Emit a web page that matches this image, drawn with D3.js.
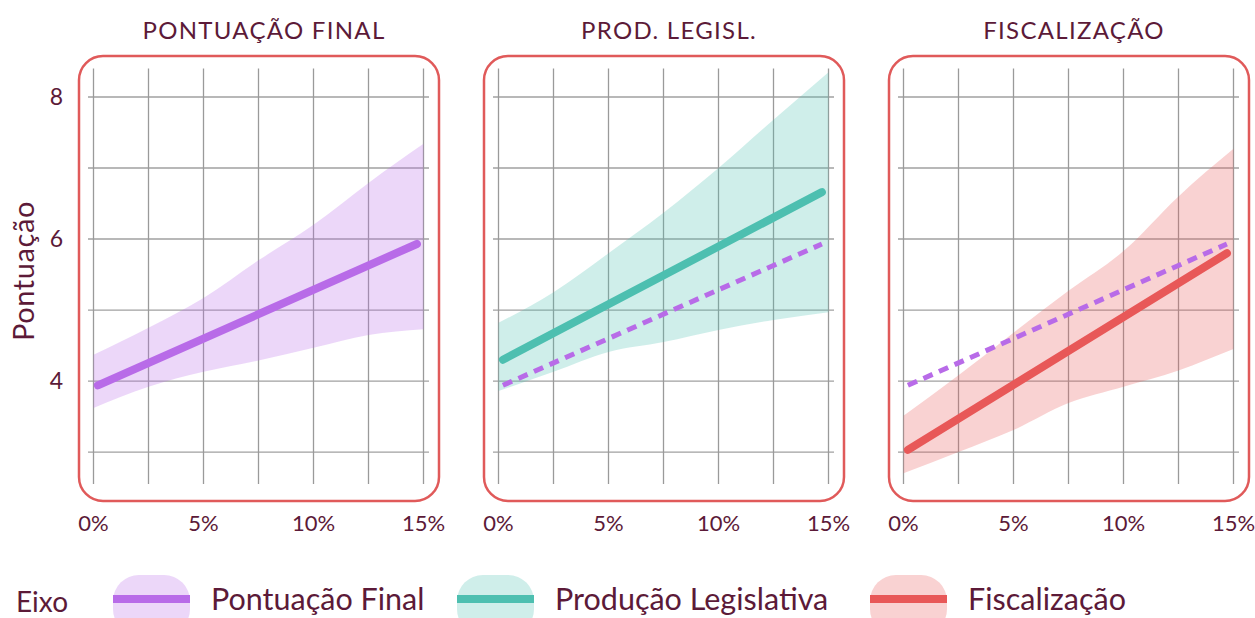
<!DOCTYPE html>
<html>
<head>
<meta charset="utf-8">
<script src="https://cdn.jsdelivr.net/npm/d3@7"></script>
<style>
  body { margin: 0; background: #fff; }
  text { font-family: Lato, "Open Sans", sans-serif; fill: #5c1a38; }
</style>
</head>
<body>
<div id="chart"></div>
<script>
// ---- data ----
var panelTitles = ['PONTUAÇÃO FINAL', 'PROD. LEGISL.', 'FISCALIZAÇÃO'];
var seriesNames = ['Pontuação Final', 'Produção Legislativa', 'Fiscalização'];
var seriesColors = ['#b86be8', '#4dbfb0', '#e85858'];

var bandX = [0, 0.025, 0.05, 0.075, 0.10, 0.125, 0.15];
var pontuacaoUpper = [4.37, 4.75, 5.17, 5.70, 6.20, 6.79, 7.34];
var pontuacaoLower = [3.62, 3.92, 4.13, 4.29, 4.47, 4.65, 4.73];
var legislUpper = [4.82, 5.25, 5.80, 6.37, 7.00, 7.68, 8.35];
var legislLower = [3.86, 4.13, 4.41, 4.55, 4.72, 4.86, 4.97];
var fiscUpper = [3.51, 4.08, 4.68, 5.27, 5.83, 6.60, 7.27];
var fiscLower = [2.70, 3.00, 3.31, 3.69, 3.92, 4.15, 4.45];

var lineX = [0.002, 0.147];
var pontuacaoLine = [3.94, 5.93];
var legislLine = [4.30, 6.66];
var fiscLine = [3.03, 5.80];

var xTicks = [0, 0.05, 0.10, 0.15];
var xGridTicks = [0, 0.025, 0.05, 0.075, 0.10, 0.125, 0.15];
var yTicks = [4, 6, 8];
var yGridTicks = [3, 4, 5, 6, 7, 8];

var uppers = [pontuacaoUpper, legislUpper, fiscUpper];
var lowers = [pontuacaoLower, legislLower, fiscLower];
var lines = [pontuacaoLine, legislLine, fiscLine];

// ---- layout ----
var width = 1255, height = 618;
var panelStep = 405;

var x = d3.scaleLinear().domain([-0.0025, 0.1525]).range([88, 429]);
var y = d3.scaleLinear().domain([2.55, 8.4]).range([484, 68.6]);

var svg = d3.select('#chart').append('svg')
    .attr('width', width)
    .attr('height', height);

var area = d3.area()
    .x(function(d) { return x(d.x); })
    .y0(function(d) { return y(d.lo); })
    .y1(function(d) { return y(d.hi); })
    .curve(d3.curveMonotoneX);

var line = d3.line()
    .x(function(d) { return x(d.x); })
    .y(function(d) { return y(d.y); });

panelTitles.forEach(function(title, p) {
    var g = svg.append('g').attr('transform', 'translate(' + (p * panelStep) + ',0)');

    // grid
    g.selectAll('.hgrid').data(yGridTicks).enter().append('line')
        .attr('x1', x.range()[0]).attr('x2', x.range()[1])
        .attr('y1', function(d) { return y(d); })
        .attr('y2', function(d) { return y(d); })
        .style('stroke', '#a0a0a0').style('stroke-width', 1.3);
    g.selectAll('.vgrid').data(xGridTicks).enter().append('line')
        .attr('y1', y.range()[0]).attr('y2', y.range()[1])
        .attr('x1', function(d) { return x(d); })
        .attr('x2', function(d) { return x(d); })
        .style('stroke', '#9a9a9a').style('stroke-width', 1.3);

    // confidence band
    var band = bandX.map(function(v, i) {
        return { x: v, lo: lowers[p][i], hi: uppers[p][i] };
    });
    g.append('path').datum(band)
        .attr('d', area)
        .style('fill', seriesColors[p])
        .style('fill-opacity', 0.27);

    // dashed reference (Pontuação Final) in other panels
    if (p > 0) {
        g.append('path')
            .datum(lineX.map(function(v, i) { return { x: v, y: pontuacaoLine[i] }; }))
            .attr('d', line)
            .style('fill', 'none')
            .style('stroke', seriesColors[0])
            .style('stroke-width', 5)
            .style('stroke-dasharray', '10,7');
    }

    g.append('path')
        .datum(lineX.map(function(v, i) { return { x: v, y: lines[p][i] }; }))
        .attr('d', line)
        .style('fill', 'none')
        .style('stroke', seriesColors[p])
        .style('stroke-width', 8)
        .style('stroke-linecap', 'round');

    // panel border
    g.append('rect')
        .attr('x', 79).attr('y', 56)
        .attr('width', 360).attr('height', 445)
        .attr('rx', 24).attr('ry', 24)
        .style('fill', 'none')
        .style('stroke', '#e05a5a')
        .style('stroke-width', 2.5);

    // title
    g.append('text')
        .attr('x', 264).attr('y', 39)
        .attr('text-anchor', 'middle')
        .style('font-size', '24px')
        .style('letter-spacing', '1.3px')
        .text(title);

    // x axis labels
    g.selectAll('.xlab').data(xTicks).enter().append('text')
        .attr('x', function(d) { return x(d); })
        .attr('y', 531)
        .attr('text-anchor', 'middle')
        .style('font-size', '22px')
        .text(d3.format('.0%'));

    if (p === 0) {
        g.selectAll('.ylab').data(yTicks).enter().append('text')
            .attr('x', 63)
            .attr('y', function(d) { return y(d) + 8; })
            .attr('text-anchor', 'end')
            .style('font-size', '23px')
            .text(function(d) { return d; });
    }
});

// y axis title
svg.append('text')
    .attr('transform', 'translate(34,271) rotate(-90)')
    .attr('text-anchor', 'middle')
    .style('font-size', '29px')
    .style('letter-spacing', '0.6px')
    .text('Pontuação');

// legend
svg.append('text')
    .attr('x', 16).attr('y', 612)
    .style('font-size', '28px')
    .text('Eixo');

var legendX = [113, 457, 870];
seriesNames.forEach(function(name, i) {
    var lg = svg.append('g').attr('transform', 'translate(' + legendX[i] + ',0)');
    lg.append('rect')
        .attr('x', 0).attr('y', 575)
        .attr('width', 77).attr('height', 60)
        .attr('rx', 26).attr('ry', 26)
        .style('fill', seriesColors[i])
        .style('fill-opacity', 0.27);
    lg.append('line')
        .attr('x1', 0).attr('x2', 77)
        .attr('y1', 599).attr('y2', 599)
        .style('stroke', seriesColors[i])
        .style('stroke-width', 8);
    lg.append('text')
        .attr('x', 98).attr('y', 610)
        .style('font-size', '30.5px')
        .text(name);
});
</script>
</body>
</html>
